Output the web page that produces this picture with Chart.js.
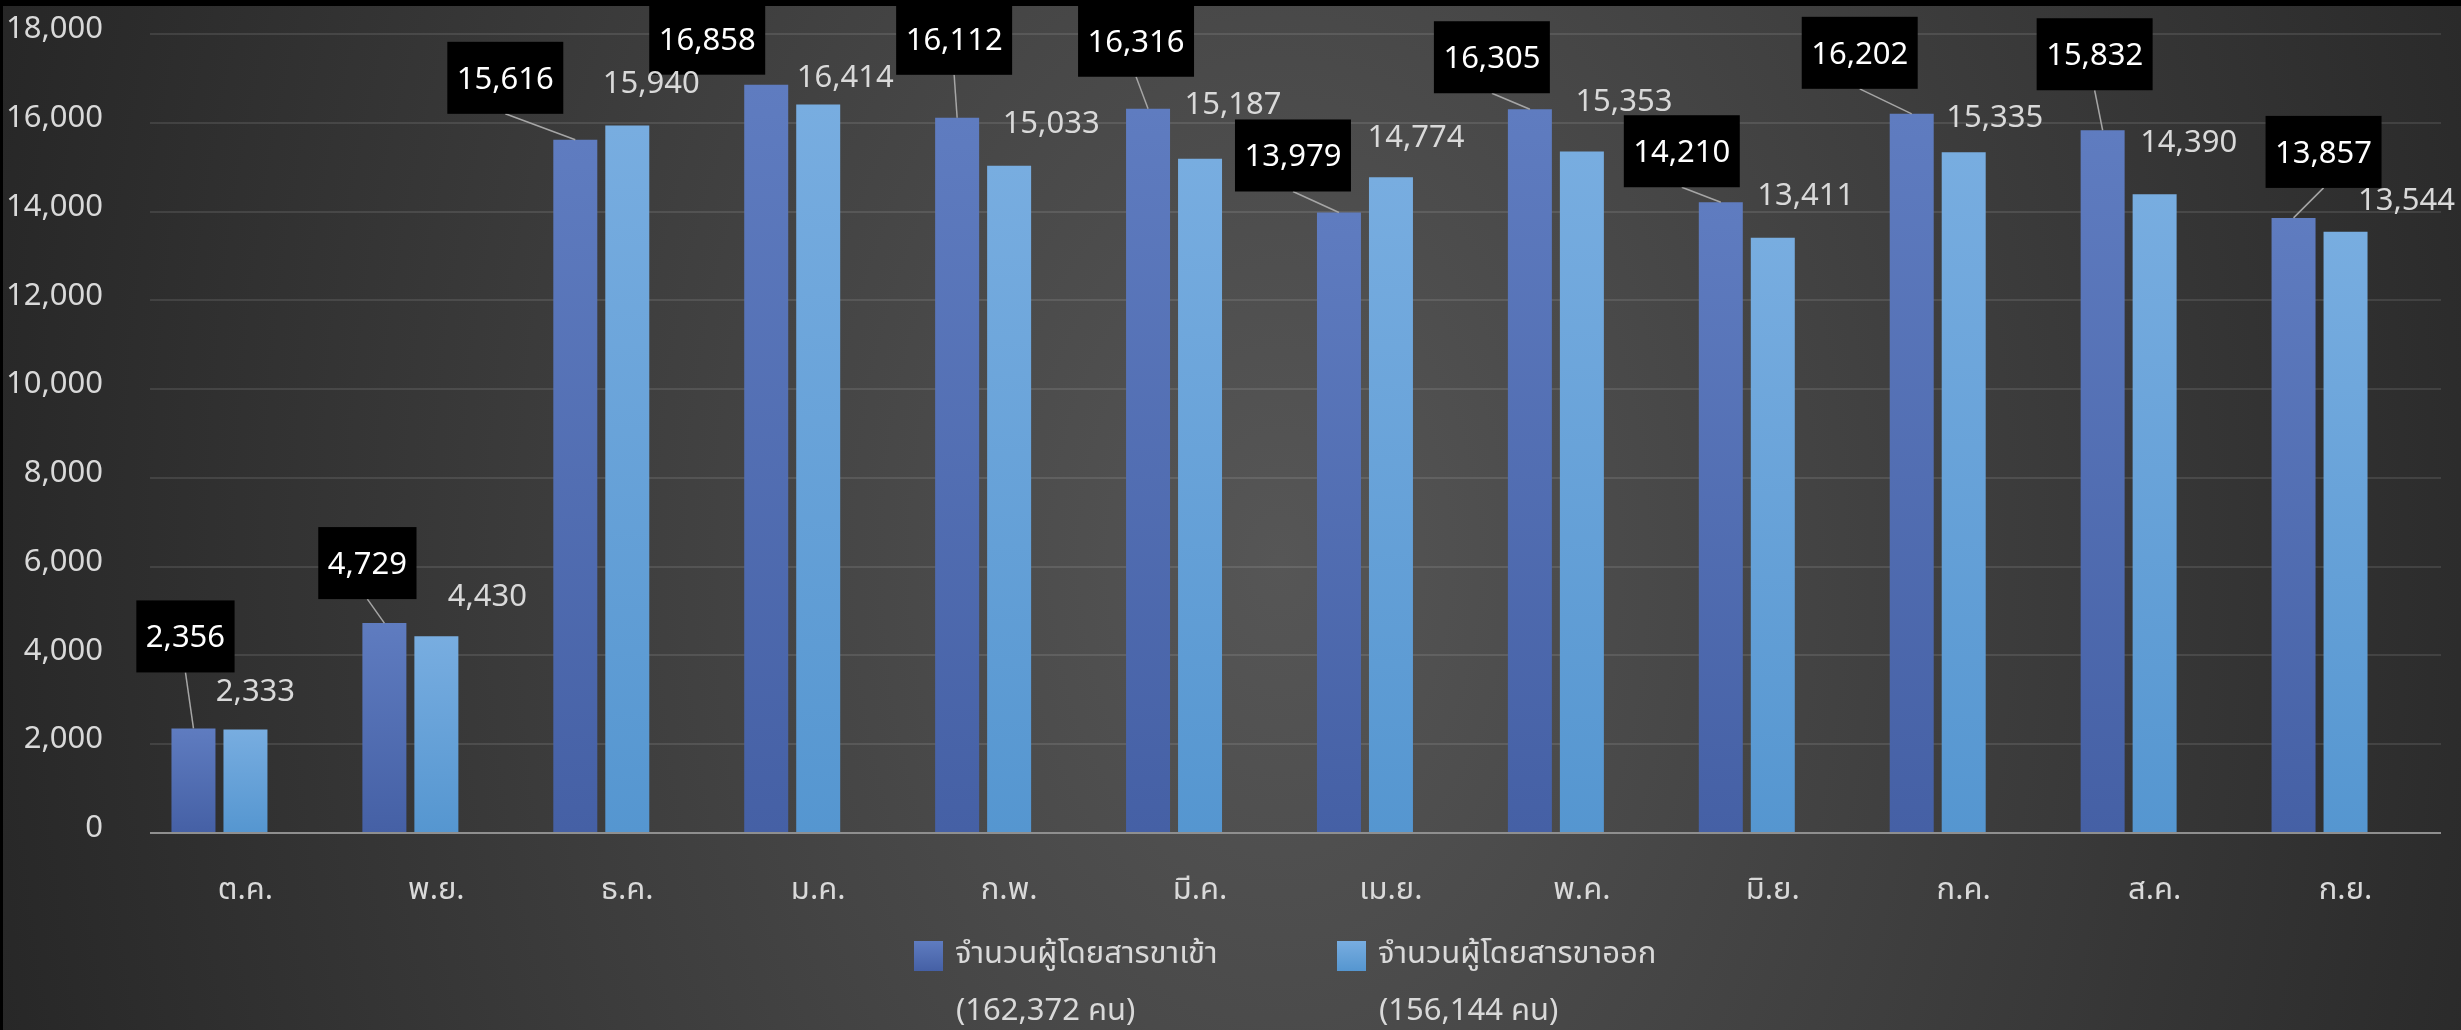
<!DOCTYPE html>
<html lang="th">
<head>
<meta charset="utf-8">
<title>จำนวนผู้โดยสาร</title>
<script src="https://cdn.jsdelivr.net/npm/chart.js@4.4.1/dist/chart.umd.min.js"></script>
<style>
  html, body { margin: 0; padding: 0; background: #2a2a2a; overflow: hidden; }
  #wrap { width: 2461px; height: 1030px; }
</style>
</head>
<body>
<div id="wrap"><canvas id="paxChart" width="2461" height="1030"></canvas></div>
<script>
// data
const months = ["ต.ค.", "พ.ย.", "ธ.ค.", "ม.ค.", "ก.พ.", "มี.ค.", "เม.ย.", "พ.ค.", "มิ.ย.", "ก.ค.", "ส.ค.", "ก.ย."];
const inbound = [2356, 4729, 15616, 16858, 16112, 16316, 13979, 16305, 14210, 16202, 15832, 13857];
const outbound = [2333, 4430, 15940, 16414, 15033, 15187, 14774, 15353, 13411, 15335, 14390, 13544];
// empty third series: keeps the empty slot on the right of each pair, like the original sheet
const spacer = [null, null, null, null, null, null, null, null, null, null, null, null];
const yTicks = [0, 2000, 4000, 6000, 8000, 10000, 12000, 14000, 16000, 18000];
const seriesNames = ["จำนวนผู้โดยสารขาเข้า", "จำนวนผู้โดยสารขาออก"];

// hand-placed label offsets (px from the top centre of each bar)
const inLabelDx = [-8, -17, -70, -59, -3, -12, -46, -38, -39, -52, -8, 30];
const inLabelDy = [-92, -60, -62, -46, -79, -68, -57, -52, -51, -61, -76, -66];
const outLabelDx = [10, 51, 24, 27, 42, 33, 25, 42, 33, 31, 34, 61];
const outLabelDy = [-39, -41, -43, -28, -44, -56, -41, -51, -44, -36, -53, -33];

const FONT = '"Noto Sans Thai", "Noto Sans", "Leelawadee UI", Tahoma, sans-serif';
const TXT = "#d9d9d9";
const fmt = v => v.toLocaleString("en-US");
const total = arr => arr.reduce((a, b) => a + b, 0);

function barFill(top, bottom) {
  return c => {
    const chart = c.chart;
    if (!chart.chartArea || c.type !== "data" || c.raw == null) return bottom;
    const y = chart.scales.y;
    const g = chart.ctx.createLinearGradient(0, y.getPixelForValue(c.raw), 0, y.getPixelForValue(0));
    g.addColorStop(0, top);
    g.addColorStop(1, bottom);
    return g;
  };
}

const background = {
  id: "background",
  beforeDraw(chart) {
    const { ctx, width, height } = chart;
    const cx = 1280, cy = 560, r = 1350, k = 2000 / 1350;
    ctx.save();
    ctx.setTransform(1, 0, 0, k, cx, cy);
    const g = ctx.createRadialGradient(0, 0, 0, 0, 0, r);
    g.addColorStop(0, "#565656");
    g.addColorStop(1, "#262626");
    ctx.fillStyle = g;
    ctx.fillRect(-cx, -cy / k, width, height / k);
    ctx.setTransform(1, 0, 0, 1, 0, 0);
    ctx.fillStyle = "#000";
    ctx.fillRect(0, 0, width, 6);
    ctx.fillRect(0, 0, 3, height);
    ctx.restore();
  }
};

const valueLabels = {
  id: "valueLabels",
  afterDatasetsDraw(chart) {
    const ctx = chart.ctx;
    ctx.save();
    ctx.font = "31px " + FONT;
    ctx.textAlign = "center";
    ctx.textBaseline = "alphabetic";

    chart.getDatasetMeta(0).data.forEach((bar, i) => {
      const text = fmt(inbound[i]);
      const cx = bar.x + inLabelDx[i], cy = bar.y + inLabelDy[i];
      const w = ctx.measureText(text).width + 19, h = 72;
      const boxBottom = cy + h / 2;
      if (bar.y - boxBottom > 12) {
        ctx.strokeStyle = "#a6a6a6";
        ctx.lineWidth = 1.5;
        ctx.beginPath();
        ctx.moveTo(cx, boxBottom);
        ctx.lineTo(bar.x, bar.y);
        ctx.stroke();
      }
      ctx.fillStyle = "#000";
      ctx.fillRect(cx - w / 2, cy - h / 2, w, h);
      ctx.fillStyle = "#ffffff";
      ctx.fillText(text, cx, cy + 11);
    });

    chart.getDatasetMeta(1).data.forEach((bar, i) => {
      ctx.fillStyle = TXT;
      ctx.fillText(fmt(outbound[i]), bar.x + outLabelDx[i], bar.y + outLabelDy[i] + 11);
    });
    ctx.restore();
  }
};

const legendBox = {
  id: "legendBox",
  afterDraw(chart) {
    const ctx = chart.ctx;
    const items = [
      { x: 914, top: "#5f7cc0", bottom: "#4560a5", name: seriesNames[0], sum: total(inbound) },
      { x: 1337, top: "#78ade0", bottom: "#5596d0", name: seriesNames[1], sum: total(outbound) }
    ];
    ctx.save();
    ctx.font = "31px " + FONT;
    ctx.textAlign = "left";
    ctx.textBaseline = "alphabetic";
    items.forEach(it => {
      const g = ctx.createLinearGradient(0, 941, 0, 971);
      g.addColorStop(0, it.top);
      g.addColorStop(1, it.bottom);
      ctx.fillStyle = g;
      ctx.fillRect(it.x, 941, 29, 30);
      ctx.fillStyle = TXT;
      ctx.fillText(it.name, it.x + 41, 963);
      ctx.fillText("(" + fmt(it.sum) + " คน)", it.x + 42, 1020);
    });
    ctx.restore();
  }
};

new Chart(document.getElementById("paxChart"), {
  type: "bar",
  data: {
    labels: months,
    datasets: [
      { label: seriesNames[0], data: inbound, backgroundColor: barFill("#5f7cc0", "#4560a5") },
      { label: seriesNames[1], data: outbound, backgroundColor: barFill("#78ade0", "#5596d0") },
      { label: "", data: spacer }
    ]
  },
  options: {
    responsive: false,
    animation: false,
    datasets: { bar: { categoryPercentage: 0.817, barPercentage: 0.846, borderWidth: 0 } },
    layout: { padding: { top: 0, right: 20, left: 0, bottom: 0 } },
    plugins: { legend: { display: false }, tooltip: { enabled: false } },
    scales: {
      x: {
        grid: { display: false },
        border: { display: false },
        ticks: { color: TXT, font: { size: 31, family: FONT }, padding: 33, maxRotation: 0 },
        afterFit: s => { s.height = 197; }
      },
      y: {
        min: 0,
        max: 18000,
        afterBuildTicks: s => { s.ticks = yTicks.map(v => ({ value: v })); },
        grid: {
          color: c => (c.tick && c.tick.value === 0 ? "#8f8f8f" : "rgba(255,255,255,0.1)"),
          lineWidth: 2,
          drawTicks: false
        },
        border: { display: false },
        ticks: { color: TXT, font: { size: 31, family: FONT }, padding: 47, labelOffset: -2, callback: v => fmt(v) },
        afterFit: s => {
          s.width = 150;
          s.paddingTop = 34;
          s.paddingBottom = 0;
        }
      }
    }
  },
  plugins: [background, valueLabels, legendBox]
});
</script>
</body>
</html>
